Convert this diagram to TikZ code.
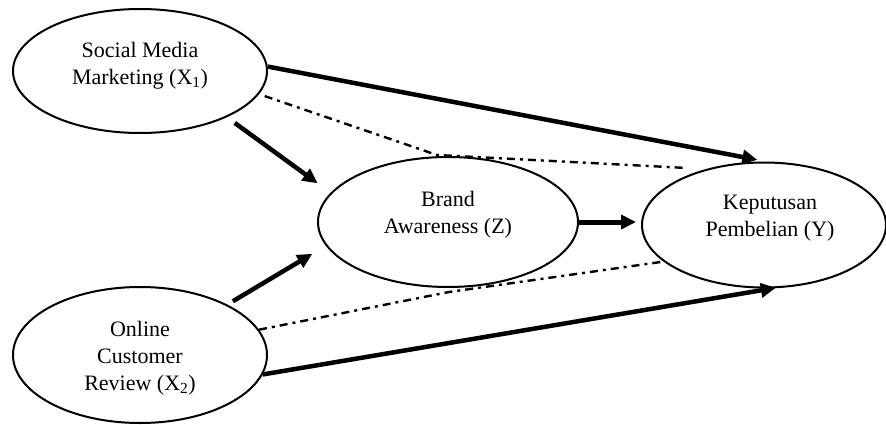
\documentclass[tikz,border=0pt]{standalone}
\usepackage{fontspec}
\setmainfont{Liberation Serif}
\usetikzlibrary{shapes.geometric,arrows.meta,calc}
\begin{document}
\begin{tikzpicture}[x=1pt,y=-1pt,
  var/.style={draw,ellipse,line width=2pt,inner sep=0pt},
  lbl/.style={align=center,font=\fontsize{22}{27}\selectfont},
  effect/.style={line width=4.5pt,-{Triangle[length=15pt,width=14pt]}},
  indirect/.style={line width=2.4pt,dash pattern=on 8pt off 5pt on 3pt off 5pt}]
\useasboundingbox (0,0) rectangle (886,425);

% latent variables
\node[var,minimum width=254pt,minimum height=124pt] (X1) at (140,71) {};
\node[lbl] (tX1) at (140,66) {Social Media\\Marketing (X\textsubscript{1})};
\node[var,minimum width=254pt,minimum height=136pt] (X2) at (140,355) {};
\node[lbl] (tX2) at (140,358) {Online\\Customer\\Review (X\textsubscript{2})};
\node[var,minimum width=260pt,minimum height=130pt] (Z) at (448,222) {};
\node[lbl] (tZ) at (448,215) {Brand\\Awareness (Z)};
\node[var,minimum width=244pt,minimum height=125pt] (Y) at (764,225) {};
\node[lbl] (tY) at (770,218) {Keputusan\\Pembelian (Y)};

% direct effects
\draw[effect,shorten >=9pt] (X1.2) -- (Y.88);
\draw[effect,shorten <=9.7pt,shorten >=16pt] (X1.-28) -- (Z.166);
\draw[effect,shorten <=6.4pt,shorten >=15.7pt] (X2.30) -- (Z.191);
\draw[effect,shorten >=-3pt] (X2.-9) -- (Y.-82);
\draw[effect,line width=5pt,shorten >=5pt] (Z.east) -- (Z.east -| Y.west);

% indirect effects through Z
\coordinate (m1) at (437,155);
\coordinate (m2) at (449,292);
\draw[indirect,shorten <=6pt,shorten >=20pt] (X1.-11) -- (m1) -- (Y.136);
\draw[indirect] (X2.12) -- (m2) -- (Y.200);
\end{tikzpicture}
\end{document}
